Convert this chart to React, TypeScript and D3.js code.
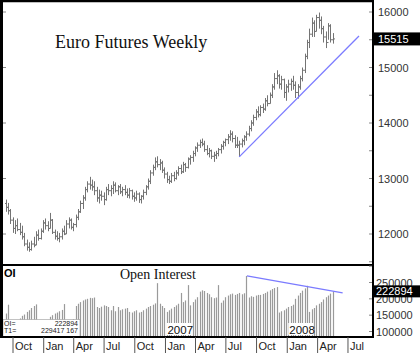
import React from 'react';
import * as d3 from 'd3';

// weekly bars, first week ending 2005-09-09
const firstWeek = new Date(2005, 8, 9);

const opens = [
  12550, 12480, 12420, 12250, 12100, 12150, 12080, 12030, 11950, 11820,
  11760, 11720, 11820, 11800, 11980, 11920, 12050, 12200, 12150, 12100,
  12250, 12030, 11960, 11920, 11950, 12050, 12000, 12180, 12250, 12120,
  12170, 12300, 12400, 12550, 12650, 12800, 12900, 12880, 12850, 12780,
  12650, 12700, 12680, 12620, 12800, 12780, 12820, 12880, 12780, 12850,
  12760, 12800, 12750, 12700, 12780, 12680, 12650, 12720, 12620, 12680,
  12750, 12850, 12950, 13100, 13200, 13300, 13250, 13280, 13150, 13080,
  12980, 12950, 13050, 13000, 13100, 13180, 13120, 13250, 13200, 13350,
  13380, 13450, 13550, 13600, 13650, 13620, 13520, 13450, 13500, 13400,
  13420, 13450, 13520, 13580, 13650, 13700, 13750, 13800, 13720, 13600,
  13600, 13620, 13680, 13750, 13800, 13900, 14000, 14100, 14200, 14150,
  14280, 14250, 14400, 14350, 14500, 14650, 14800, 14850, 14700, 14780,
  14550, 14650, 14700, 14750, 14680, 14550, 14650, 14800, 14950, 15200,
  15450, 15600, 15800, 15650, 15900, 15850, 15700, 15550, 15450, 15750,
  15500,
];
const highs = [
  12620, 12560, 12450, 12300, 12250, 12280, 12200, 12150, 12020, 11900,
  11850, 11880, 11950, 12050, 12080, 12100, 12250, 12280, 12230, 12380,
  12270, 12080, 12050, 12020, 12100, 12150, 12250, 12300, 12280, 12200,
  12350, 12450, 12600, 12700, 12850, 12950, 13030, 12980, 12950, 12850,
  12800, 12780, 12750, 12850, 12900, 12880, 12950, 12930, 12880, 12900,
  12850, 12880, 12820, 12830, 12800, 12750, 12780, 12750, 12700, 12800,
  12880, 13000, 13150, 13250, 13380, 13400, 13350, 13320, 13200, 13120,
  13050, 13100, 13120, 13150, 13220, 13250, 13300, 13280, 13380, 13420,
  13500, 13580, 13650, 13700, 13720, 13680, 13600, 13550, 13520, 13480,
  13500, 13550, 13620, 13680, 13720, 13800, 13870, 13850, 13780, 13750,
  13680, 13720, 13780, 13850, 13950, 14050, 14150, 14250, 14300, 14320,
  14350, 14450, 14500, 14550, 14700, 14900, 14950, 14880, 14850, 14800,
  14700, 14780, 14800, 14850, 14750, 14700, 14850, 15000, 15250, 15500,
  15700, 15900, 15850, 15950, 15990, 15920, 15750, 15650, 15800, 15780,
  15620,
];
const lows = [
  12400, 12350, 12180, 12020, 12000, 12050, 11980, 11900, 11780, 11700,
  11680, 11700, 11760, 11800, 11880, 11900, 12020, 12080, 12050, 12100,
  12000, 11900, 11880, 11850, 11900, 11980, 12000, 12100, 12080, 12050,
  12120, 12250, 12380, 12450, 12600, 12750, 12800, 12780, 12700, 12580,
  12550, 12600, 12520, 12600, 12700, 12680, 12720, 12750, 12700, 12720,
  12680, 12700, 12650, 12640, 12620, 12580, 12600, 12560, 12550, 12620,
  12700, 12800, 12900, 13050, 13150, 13200, 13150, 13100, 13000, 12920,
  12900, 12920, 12950, 12980, 13050, 13080, 13100, 13120, 13180, 13250,
  13300, 13400, 13480, 13550, 13580, 13480, 13420, 13380, 13350, 13300,
  13350, 13400, 13450, 13520, 13580, 13620, 13680, 13650, 13550, 13550,
  13390, 13560, 13600, 13680, 13760, 13850, 13950, 14050, 14100, 14120,
  14180, 14220, 14300, 14350, 14450, 14600, 14700, 14620, 14600, 14450,
  14400, 14550, 14580, 14600, 14450, 14440, 14600, 14750, 14900, 15150,
  15350, 15550, 15550, 15650, 15700, 15600, 15450, 15350, 15500, 15450,
  15430,
];
const closes = [
  12480, 12420, 12250, 12100, 12150, 12080, 12030, 11950, 11820, 11760,
  11720, 11820, 11800, 11980, 11920, 12050, 12200, 12150, 12100, 12250,
  12030, 11960, 11920, 11950, 12050, 12000, 12180, 12250, 12120, 12170,
  12300, 12400, 12550, 12650, 12800, 12900, 12880, 12850, 12780, 12650,
  12700, 12680, 12620, 12800, 12780, 12820, 12880, 12780, 12850, 12760,
  12800, 12750, 12700, 12780, 12680, 12650, 12720, 12620, 12680, 12750,
  12850, 12950, 13100, 13200, 13300, 13250, 13280, 13150, 13080, 12980,
  12950, 13050, 13000, 13100, 13180, 13120, 13250, 13200, 13350, 13380,
  13450, 13550, 13600, 13650, 13620, 13520, 13450, 13500, 13400, 13420,
  13450, 13520, 13580, 13650, 13700, 13750, 13800, 13720, 13600, 13600,
  13620, 13680, 13750, 13800, 13900, 14000, 14100, 14200, 14150, 14280,
  14250, 14400, 14350, 14500, 14650, 14800, 14850, 14700, 14780, 14550,
  14650, 14700, 14750, 14680, 14550, 14650, 14800, 14950, 15200, 15450,
  15600, 15800, 15650, 15900, 15850, 15700, 15550, 15450, 15750, 15500,
  15515,
];
const openInterest = [
  155000, 182000, 110000, 115000, 122000, 130000, 140000, 148000, 152000, 160000,
  165000, 172000, 178000, 183000, 110000, 115000, 122000, 128000, 134000, 145000,
  150000, 155000, 158000, 162000, 166000, 184000, 120000, 128000, 134000, 138000,
  178000, 185000, 190000, 195000, 198000, 200000, 203000, 202000, 204000, 175000,
  172000, 176000, 180000, 178000, 175000, 165000, 178000, 162000, 175000, 165000,
  168000, 170000, 172000, 160000, 158000, 162000, 165000, 158000, 160000, 165000,
  170000, 175000, 178000, 182000, 186000, 248000, 185000, 178000, 172000, 160000,
  165000, 170000, 175000, 180000, 185000, 218000, 190000, 195000, 242000, 180000,
  190000, 198000, 205000, 222000, 226000, 224000, 218000, 214000, 205000, 202000,
  204000, 242000, 188000, 195000, 205000, 210000, 214000, 216000, 212000, 215000,
  218000, 214000, 217000, 270000, 204000, 208000, 206000, 210000, 212000, 212000,
  215000, 218000, 222000, 226000, 230000, 233000, 236000, 158000, 162000, 165000,
  170000, 175000, 178000, 182000, 200000, 210000, 218000, 225000, 232000, 240000,
  160000, 168000, 172000, 180000, 185000, 190000, 198000, 205000, 210000, 216000,
  222894,
];

const priceTicks = [12000, 13000, 14000, 15000, 16000];
const oiTicks = [100000, 150000, 200000, 250000];
const monthTicks = [
  new Date(2005, 9, 1), new Date(2006, 0, 1), new Date(2006, 3, 1), new Date(2006, 6, 1),
  new Date(2006, 9, 1), new Date(2007, 0, 1), new Date(2007, 3, 1), new Date(2007, 6, 1),
  new Date(2007, 9, 1), new Date(2008, 0, 1), new Date(2008, 3, 1), new Date(2008, 6, 1),
];
const yearLabels = [new Date(2007, 0, 1), new Date(2008, 0, 1)];
const lastPrice = 15515;
const lastOI = 222894;
const oiT1 = '229417  167';
// trend lines: [week index, value]
const priceTrend = [[100, 13390], [151.3, 15568]];
const oiTrend = [[103.3, 270000], [144.4, 218000]];

const W = 420, H = 353;
const left = 2, right = 373, top = 1, split = 265, bottom = 337;
const sans = 'Arial, "Liberation Sans", sans-serif';

export default function App() {
  const weeks = highs.map((_, i) => d3.timeWeek.offset(firstWeek, i));
  const x = d3.scaleTime()
    .domain([new Date(2005, 7, 29), new Date(2008, 8, 14)])
    .range([left, right]);
  const xi = (i: number) => x(d3.timeDay.offset(firstWeek, i * 7));
  const y = d3.scaleLinear().domain([12000, 16000]).range([234, 12]);
  const yo = d3.scaleLinear().domain([100000, 250000]).range([331.5, 282.5]);

  const line = d3.line<number[]>().x(d => xi(d[0])).y(d => d[1]);
  const minorPrice = d3.range(11500, 16300, 500);

  return (
    <svg width={W} height={H} style={{ position: 'absolute', left: 0, top: 0, background: '#fff' }}>
      <defs>
        <clipPath id="main"><rect x={left} y={top} width={right - left} height={split - top} /></clipPath>
        <clipPath id="low"><rect x={left} y={split} width={right - left} height={bottom - split} /></clipPath>
      </defs>

      {/* price bars */}
      <g clipPath="url(#main)" stroke="#747474" strokeWidth={1}>
        {weeks.map((d, i) => {
          const cx = Math.round(x(d)) + 0.5;
          return (
            <g key={i}>
              <line x1={cx} x2={cx} y1={y(highs[i])} y2={y(lows[i])} />
              <line x1={cx - 1.5} x2={cx} y1={y(opens[i])} y2={y(opens[i])} />
              <line x1={cx} x2={cx + 1.5} y1={y(closes[i])} y2={y(closes[i])} />
            </g>
          );
        })}
      </g>
      <path d={line(priceTrend.map(p => [p[0], y(p[1])]))!} stroke="#7b7bff" strokeWidth={1.3} fill="none" />

      <text x={55} y={48} fontFamily='"Times New Roman", "Liberation Serif", serif' fontSize={18} fill="#111">
        Euro Futures Weekly
      </text>

      {/* open interest bars */}
      <g clipPath="url(#low)" stroke="#9a9a9a" strokeWidth={1.2}>
        {weeks.map((d, i) => {
          const cx = Math.round(x(d)) + 0.5;
          return <line key={i} x1={cx} x2={cx} y1={yo(openInterest[i])} y2={bottom} />;
        })}
      </g>
      <path d={line(oiTrend.map(p => [p[0], yo(p[1])]))!} stroke="#7b7bff" strokeWidth={1.3} fill="none" />

      <text x={120} y={279} fontFamily='"Times New Roman", "Liberation Serif", serif' fontSize={14} fill="#111">
        Open Interest
      </text>
      <text x={4} y={277} fontFamily={sans} fontSize={11} fontWeight="bold" fill="#000">OI</text>

      {yearLabels.map((d, i) => (
        <g key={i}>
          <rect x={x(d) + 1} y={323} width={25} height={12} fill="#fff" />
          <text x={x(d) + 2} y={333.5} fontFamily={sans} fontSize={11.5} fill="#111">{d3.timeFormat('%Y')(d)}</text>
        </g>
      ))}

      {/* legend box */}
      <rect x={3} y={319.5} width={77} height={17} fill="#fff" stroke="#999" strokeWidth={0.6} />
      <g fontFamily={sans} fontSize={7} fill="#222">
        <text x={4} y={325.5}>OI=</text>
        <text x={78} y={325.5} textAnchor="end">{lastOI}</text>
        <text x={4} y={333}>T1=</text>
        <text x={78} y={333} textAnchor="end">{oiT1}</text>
      </g>

      {/* frame */}
      <g stroke="#000" fill="none">
        <line x1={0} x2={right + 1} y1={1} y2={1} strokeWidth={2.5} />
        <line x1={1.5} x2={1.5} y1={0} y2={bottom + 1} strokeWidth={3} />
        <line x1={right} x2={right} y1={0} y2={bottom + 1} strokeWidth={2} />
        <line x1={0} x2={right} y1={split} y2={split} strokeWidth={2} />
        <line x1={0} x2={right + 1} y1={bottom} y2={bottom} strokeWidth={2} />
      </g>

      {/* axis ticks */}
      <g stroke="#888" strokeWidth={1}>
        {minorPrice.map(v => (
          <line key={v} x1={right - 4} x2={right - 1} y1={y(v)} y2={y(v)} />
        ))}
        {priceTicks.map(v => (
          <line key={v} x1={left + 1} x2={left + 4} y1={y(v)} y2={y(v)} />
        ))}
        {d3.range(100000, 300001, 50000).map(v => (
          <line key={v} x1={right - 4} x2={right - 1} y1={yo(v)} y2={yo(v)} />
        ))}
      </g>
      <g fontFamily={sans} fontSize={11} fill="#333">
        {priceTicks.map(v => (
          <text key={v} x={378} y={y(v) + 4}>{v}</text>
        ))}
        {oiTicks.map(v => (
          <text key={v} x={376} y={yo(v) + 4}>{v}</text>
        ))}
      </g>

      {/* last value boxes */}
      <rect x={right} y={y(lastPrice) - 6.5} width={W - right} height={13} fill="#000" />
      <text x={378} y={y(lastPrice) + 4} fontFamily={sans} fontSize={11} fill="#fff">{lastPrice}</text>
      <rect x={right} y={yo(lastOI) - 6} width={W - right} height={12} fill="#000" />
      <text x={376} y={yo(lastOI) + 4} fontFamily={sans} fontSize={11} fill="#fff">{lastOI}</text>

      {/* month axis */}
      <g fontFamily={sans} fontSize={11} fill="#222">
        {monthTicks.map((d, i) => (
          <g key={i}>
            <line x1={x(d)} x2={x(d)} y1={bottom} y2={H} stroke="#555" strokeWidth={1} />
            <text x={x(d) + 2} y={350}>{d3.timeFormat('%b')(d)}</text>
          </g>
        ))}
      </g>
    </svg>
  );
}
